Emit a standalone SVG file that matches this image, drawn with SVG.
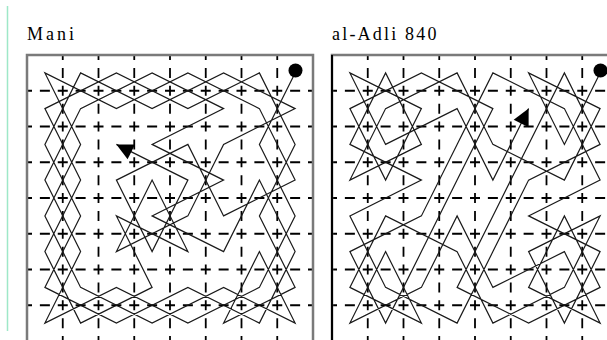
<svg xmlns="http://www.w3.org/2000/svg" width="607" height="340" viewBox="0 0 607 340">
<style>
.t{font-family:"Liberation Serif","Times New Roman",serif;font-size:18px;fill:#000}
.fr{fill:none;stroke:#7a7a7a;stroke-width:2.5}
.gd{stroke:#000;stroke-width:1.8;stroke-dasharray:10 7.875;stroke-dashoffset:5;fill:none}
.tr{fill:none;stroke:#1a1a1a;stroke-width:1.2;stroke-linejoin:miter}
.st{fill:#000}
</style>
<defs>
<marker id="ah" markerUnits="userSpaceOnUse" markerWidth="20" markerHeight="20" refX="0" refY="0" viewBox="-17 -9 18 18" orient="auto"><path d="M0,0 L-15,-7.5 L-15,7.5 Z" fill="#000"/></marker>
<g id="grid">
<path class="gd" d="M35.75,0V290M71.5,0V290M107.25,0V290M143,0V290M178.75,0V290M214.5,0V290M250.25,0V290M0,35.75H286M0,71.5H286M0,107.25H286M0,143H286M0,178.75H286M0,214.5H286M0,250.25H286"/>
</g>
</defs>
<rect x="0" y="0" width="607" height="340" fill="#fff"/>
<line x1="7.5" y1="6" x2="7.5" y2="331" stroke="#9ee8c8" stroke-width="1.5"/>
<text class="t" x="27" y="39.5" style="letter-spacing:3px">Mani</text>
<text class="t" x="332" y="39.5" style="letter-spacing:2.2px">al-Adli 840</text>
<g id="board-mani" transform="translate(27,55)">
<use href="#grid"/>
<rect class="fr" x="0" y="0" width="286" height="300"/>
<g id="connectors-mani">
<polyline class="tr" marker-end="url(#ah)" points="268.1,17.9 232.4,89.4 268.1,160.9 232.4,232.4 160.9,268.1 89.4,232.4 17.9,268.1 53.6,196.6 17.9,125.1 53.6,53.6 125.1,17.9 196.6,53.6 125.1,89.4 196.6,125.1 125.1,160.9 196.6,196.6 232.4,125.1 268.1,196.6 232.4,268.1 160.9,232.4 89.4,268.1 17.9,232.4 53.6,160.9 17.9,89.4 53.6,17.9 125.1,53.6 196.6,17.9 268.1,53.6 196.6,89.4 160.9,160.9 89.4,196.6 125.1,125.1 160.9,196.6 89.4,160.9 125.1,232.4 53.6,268.1 17.9,196.6 53.6,125.1 17.9,53.6 89.4,17.9 160.9,53.6 232.4,17.9 268.1,89.4 232.4,160.9 268.1,232.4 196.6,268.1 232.4,196.6 268.1,268.1 196.6,232.4 125.1,268.1 53.6,232.4 17.9,160.9 53.6,89.4 17.9,17.9 89.4,53.6 160.9,17.9 232.4,53.6 268.1,125.1 196.6,160.9 160.9,89.4 89.4,125.1 125.1,196.6 160.9,125.1 89.4,89.4"/>
</g>
<circle id="start-mani" class="st" cx="268.5" cy="15.5" r="7"/>
</g>
<g id="board-adli" transform="translate(332,55)">
<use href="#grid"/>
<rect class="fr" x="0" y="0" width="286" height="300"/>
<line x1="0" y1="0" x2="0" y2="290" stroke="#000" stroke-width="2"/>
<g id="connectors-adli">
<polyline class="tr" marker-end="url(#ah)" points="268.1,17.9 232.4,89.4 196.6,17.9 268.1,53.6 232.4,125.1 160.9,89.4 125.1,17.9 53.6,53.6 17.9,125.1 89.4,89.4 53.6,17.9 17.9,89.4 89.4,125.1 17.9,160.9 53.6,232.4 125.1,268.1 160.9,196.6 196.6,125.1 268.1,89.4 232.4,17.9 196.6,89.4 160.9,160.9 125.1,232.4 196.6,268.1 268.1,232.4 232.4,160.9 196.6,232.4 268.1,268.1 232.4,196.6 160.9,232.4 125.1,160.9 89.4,232.4 17.9,268.1 53.6,196.6 89.4,268.1 17.9,232.4 53.6,160.9 125.1,196.6 160.9,268.1 232.4,232.4 268.1,160.9 196.6,196.6 232.4,268.1 268.1,196.6 196.6,160.9 268.1,125.1 232.4,53.6 160.9,17.9 125.1,89.4 89.4,160.9 17.9,196.6 53.6,268.1 89.4,196.6 125.1,125.1 160.9,53.6 89.4,17.9 17.9,53.6 53.6,125.1 89.4,53.6 17.9,17.9 53.6,89.4 125.1,53.6 160.9,125.1 196.6,53.6"/>
</g>
<circle id="start-adli" class="st" cx="268.5" cy="15.5" r="7"/>
</g>
</svg>
